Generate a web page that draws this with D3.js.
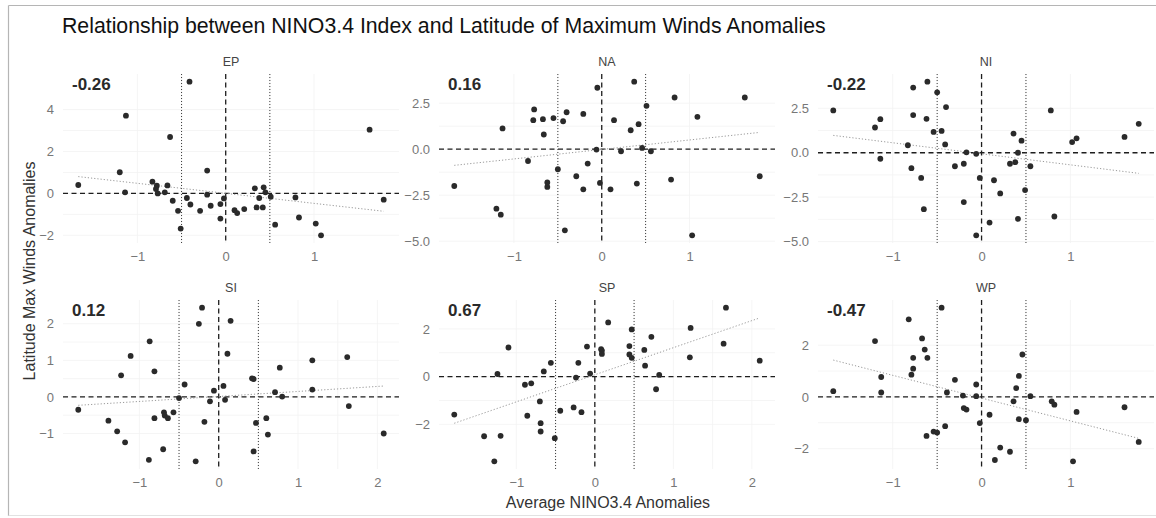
<!DOCTYPE html>
<html>
<head>
<meta charset="utf-8">
<script src="https://cdn.jsdelivr.net/npm/d3@7"></script>
<style>
  body { margin: 0; background: #fff; }
  svg { display: block; }
  text { font-family: "Liberation Sans", Arial, sans-serif; }
</style>
</head>
<body>
<svg id="chart" width="1156" height="518"></svg>
<script>
// Basin facets, in display order
const basins = ["EP", "NA", "NI", "SI", "SP", "WP"];
const corrLabels = ["-0.26", "0.16", "-0.22", "0.12", "0.67", "-0.47"];

// Average NINO3.4 anomaly (x) and latitude-of-max-winds anomaly (y) per basin
const epNino = [-1.67,-1.13,-1.20,-1.14,-0.41,-0.63,-0.21,-0.83,-0.78,-0.79,-0.77,-0.66,-0.69,-0.60,-0.54,-0.51,-0.44,-0.40,-0.29,-0.21,-0.17,-0.06,-0.02,-0.06,0.10,0.13,0.21,0.33,0.38,0.35,0.42,0.43,0.45,0.51,0.56,0.79,0.83,1.02,1.08,1.63,1.79];
const epLat  = [0.40,3.71,1.01,0.05,5.33,2.69,1.09,0.56,0.37,0.21,0.00,0.38,0.05,-0.35,-0.83,-1.68,-0.22,-0.53,-0.83,-0.06,-0.59,-0.51,-0.24,-1.20,-0.80,-0.94,-0.75,0.24,-0.22,-0.67,-0.67,0.29,0.05,-0.16,-1.49,-0.19,-1.15,-1.44,-2.00,3.04,-0.30];

const naNino = [-1.68,-1.20,-1.15,-1.13,-0.84,-0.77,-0.78,-0.67,-0.66,-0.62,-0.62,-0.55,-0.50,-0.44,-0.40,-0.42,-0.29,-0.21,-0.21,-0.16,-0.05,-0.06,-0.02,0.10,0.14,0.22,0.33,0.37,0.42,0.40,0.46,0.51,0.56,0.79,0.83,1.03,1.09,1.63,1.80];
const naLat  = [-2.00,-3.23,-3.56,1.13,-0.64,2.16,1.58,1.63,0.80,-1.81,-2.05,1.69,-1.09,1.52,2.01,-4.41,-1.47,1.92,-2.18,-0.78,3.34,-0.02,-1.83,-2.18,1.58,-0.11,1.03,3.67,1.36,-1.87,0.07,2.36,-0.11,-1.65,2.81,-4.68,1.76,2.81,-1.47];

const niNino = [-1.67,-1.20,-1.14,-1.14,-0.83,-0.77,-0.77,-0.79,-0.68,-0.65,-0.62,-0.61,-0.54,-0.50,-0.45,-0.41,-0.40,-0.30,-0.20,-0.20,-0.17,-0.06,-0.06,-0.02,0.09,0.14,0.21,0.32,0.36,0.38,0.41,0.41,0.45,0.49,0.55,0.78,0.82,1.02,1.07,1.61,1.77];
const niLat  = [2.38,1.42,1.89,-0.34,0.42,3.67,2.12,-0.87,-1.42,-3.18,1.91,4.00,1.17,3.40,1.23,0.47,2.57,-0.76,-0.62,-2.78,0.02,-0.06,-4.65,-1.42,-3.93,-1.55,-2.29,-0.62,1.08,-0.53,0.00,-3.72,0.68,-2.10,-0.76,2.38,-3.59,0.60,0.81,0.89,1.63];

const siNino = [-1.77,-1.39,-1.28,-1.23,-1.18,-1.11,-0.88,-0.87,-0.81,-0.81,-0.70,-0.69,-0.68,-0.64,-0.57,-0.50,-0.43,-0.29,-0.25,-0.21,-0.18,-0.11,-0.06,0.06,0.08,0.11,0.15,0.42,0.44,0.44,0.47,0.60,0.62,0.71,0.77,0.80,1.18,1.18,1.62,1.64,2.08];
const siLat  = [-0.35,-0.65,-0.94,0.59,-1.24,1.12,-1.72,1.52,0.70,-0.58,-1.43,-0.42,-0.51,-0.58,-0.42,-0.03,0.34,-1.76,2.00,2.44,-0.68,-0.12,0.17,0.30,-0.08,1.18,2.08,0.51,0.49,-1.49,-0.71,-0.58,-1.03,0.13,0.80,0.01,1.00,0.20,1.09,-0.25,-1.00];

const spNino = [-1.79,-1.41,-1.28,-1.24,-1.20,-1.10,-0.89,-0.86,-0.81,-0.70,-0.69,-0.69,-0.65,-0.56,-0.51,-0.44,-0.27,-0.24,-0.21,-0.17,-0.10,-0.06,0.08,0.09,0.09,0.17,0.44,0.44,0.47,0.47,0.63,0.64,0.72,0.78,0.82,1.21,1.22,1.64,1.67,2.10];
const spLat  = [-1.59,-2.50,-3.55,0.11,-2.48,1.22,-0.34,-1.64,-0.28,-1.04,-1.95,-2.30,0.22,0.58,-2.58,-1.43,-1.29,-0.04,0.58,-1.49,1.26,0.13,1.15,1.09,0.95,2.27,1.28,0.93,0.79,1.98,1.12,0.46,1.67,-0.53,0.07,0.81,2.04,1.38,2.89,0.67];

const wpNino = [-1.67,-1.20,-1.13,-1.13,-0.82,-0.79,-0.77,-0.77,-0.67,-0.64,-0.61,-0.62,-0.54,-0.50,-0.45,-0.41,-0.39,-0.30,-0.21,-0.20,-0.17,-0.06,-0.06,-0.02,0.09,0.15,0.21,0.32,0.36,0.39,0.42,0.42,0.46,0.50,0.55,0.79,0.82,1.03,1.07,1.61,1.77];
const wpLat  = [0.22,2.16,0.77,0.17,3.00,0.86,1.09,1.51,2.26,1.83,1.51,-1.51,-1.34,-1.38,3.45,-1.13,0.17,0.66,0.05,-0.43,-0.49,0.48,0.03,-1.01,-0.69,-2.44,-1.96,-2.12,-0.17,0.34,0.81,-0.86,1.64,-0.90,0.03,-0.17,-0.30,-2.49,-0.58,-0.40,-1.74];

// Tick labels per facet (free scales)
const epXTicks = [-1, 0, 1], epYTicks = [-2, 0, 2, 4];
const naXTicks = [-1, 0, 1], naYTicks = [-5, -2.5, 0, 2.5];
const niXTicks = [-1, 0, 1], niYTicks = [-5, -2.5, 0, 2.5];
const siXTicks = [-1, 0, 1, 2], siYTicks = [-1, 0, 1, 2];
const spXTicks = [-1, 0, 1, 2], spYTicks = [-2, 0, 2];
const wpXTicks = [-1, 0, 1], wpYTicks = [-2, 0, 2];

const titleText = "Relationship between NINO3.4 Index and Latitude of Maximum Winds Anomalies";
const xTitle = "Average NINO3.4 Anomalies";
const yTitle = "Latitude Max Winds Anomalies";

// Table built from the arrays above
const facets = [
  { name: basins[0], x: epNino, y: epLat, xt: epXTicks, yt: epYTicks, fmt: d3.format("d"),   r: corrLabels[0] },
  { name: basins[1], x: naNino, y: naLat, xt: naXTicks, yt: naYTicks, fmt: d3.format(".1f"), r: corrLabels[1] },
  { name: basins[2], x: niNino, y: niLat, xt: niXTicks, yt: niYTicks, fmt: d3.format(".1f"), r: corrLabels[2] },
  { name: basins[3], x: siNino, y: siLat, xt: siXTicks, yt: siYTicks, fmt: d3.format("d"),   r: corrLabels[3] },
  { name: basins[4], x: spNino, y: spLat, xt: spXTicks, yt: spYTicks, fmt: d3.format("d"),   r: corrLabels[4] },
  { name: basins[5], x: wpNino, y: wpLat, xt: wpXTicks, yt: wpYTicks, fmt: d3.format("d"),   r: corrLabels[5] }
];

// Layout
const colLeft = [63, 439, 818];
const rowTop = [74, 300];
const pw = 336, ph = 169;

const svg = d3.select("#chart");

// frame around the figure
svg.append("line").attr("x1", 8.5).attr("x2", 1156).attr("y1", 5.5).attr("y2", 5.5)
  .attr("stroke", "#b5b5b5").attr("stroke-width", 1);
svg.append("line").attr("x1", 8.5).attr("x2", 8.5).attr("y1", 5.5).attr("y2", 516)
  .attr("stroke", "#b5b5b5").attr("stroke-width", 1.2);
svg.append("line").attr("x1", 8.5).attr("x2", 1156).attr("y1", 515.5).attr("y2", 515.5)
  .attr("stroke", "#e2e2e2").attr("stroke-width", 1);

// title, sized to span its line
const title = svg.append("text").attr("x", 62).attr("y", 33)
  .attr("fill", "#111").style("font-size", "18px").text(titleText);
const tw = title.node().getComputedTextLength();
title.style("font-size", (18 * 764 / tw).toFixed(2) + "px");

// expand a domain by 5% on each side, as in a faceted scatter with free scales
function expanded(vals) {
  const [lo, hi] = d3.extent(vals.concat([-0.5, 0, 0.5]));
  const pad = (hi - lo) * 0.05;
  return [lo - pad, hi + pad];
}

function linearFit(xs, ys) {
  const mx = d3.mean(xs), my = d3.mean(ys);
  let sxy = 0, sxx = 0;
  xs.forEach((x, i) => { sxy += (x - mx) * (ys[i] - my); sxx += (x - mx) * (x - mx); });
  const b = sxy / sxx;
  return { a: my - b * mx, b };
}

facets.forEach((f, i) => {
  const left = colLeft[i % 3], top = rowTop[Math.floor(i / 3)];
  const x = d3.scaleLinear().domain(expanded(f.x)).range([left, left + pw]);
  const y = d3.scaleLinear().domain(expanded(f.y)).range([top + ph, top]);
  const g = svg.append("g");

  // faint grid
  const xMinor = f.xt.slice(0, -1).map((t, k) => (t + f.xt[k + 1]) / 2);
  const yMinor = f.yt.slice(0, -1).map((t, k) => (t + f.yt[k + 1]) / 2);
  g.selectAll(".gx").data(f.xt.concat(xMinor)).join("line")
    .attr("x1", d => x(d)).attr("x2", d => x(d)).attr("y1", top).attr("y2", top + ph)
    .attr("stroke", "#f3f3f3").attr("stroke-width", 0.8);
  g.selectAll(".gy").data(f.yt.concat(yMinor)).join("line")
    .attr("y1", d => y(d)).attr("y2", d => y(d)).attr("x1", left).attr("x2", left + pw)
    .attr("stroke", "#f3f3f3").attr("stroke-width", 0.8);

  // reference lines
  g.append("line").attr("x1", left).attr("x2", left + pw).attr("y1", y(0)).attr("y2", y(0))
    .attr("stroke", "#1e1e1e").attr("stroke-width", 1.3).attr("stroke-dasharray", "5,3.5");
  g.append("line").attr("x1", x(0)).attr("x2", x(0)).attr("y1", top).attr("y2", top + ph)
    .attr("stroke", "#1e1e1e").attr("stroke-width", 1.3).attr("stroke-dasharray", "5,3.5");
  [-0.5, 0.5].forEach(v => {
    g.append("line").attr("x1", x(v)).attr("x2", x(v)).attr("y1", top).attr("y2", top + ph)
      .attr("stroke", "#3a3a3a").attr("stroke-width", 1).attr("stroke-dasharray", "1,2");
  });

  // least-squares line
  const fit = linearFit(f.x, f.y);
  const [x0, x1] = d3.extent(f.x);
  g.append("line")
    .attr("x1", x(x0)).attr("y1", y(fit.a + fit.b * x0))
    .attr("x2", x(x1)).attr("y2", y(fit.a + fit.b * x1))
    .attr("stroke", "#9a9a9a").attr("stroke-width", 1).attr("stroke-dasharray", "1.2,2");

  // points
  g.selectAll("circle").data(f.x.map((v, k) => [v, f.y[k]])).join("circle")
    .attr("cx", d => x(d[0])).attr("cy", d => y(d[1])).attr("r", 2.9)
    .attr("fill", "#2a2a2a");

  // axes
  const ax = g.append("g").attr("transform", `translate(0,${top + ph})`)
    .call(d3.axisBottom(x).tickValues(f.xt).tickSize(0).tickPadding(9).tickFormat(d3.format("d")));
  const ay = g.append("g").attr("transform", `translate(${left},0)`)
    .call(d3.axisLeft(y).tickValues(f.yt).tickSize(0).tickPadding(9).tickFormat(f.fmt));
  [ax, ay].forEach(a => {
    a.select(".domain").remove();
    a.selectAll("text").attr("fill", "#777").style("font-size", "13px")
      .style("font-family", '"Liberation Sans", Arial, sans-serif');
  });

  // facet strip label
  g.append("text").attr("x", left + pw / 2).attr("y", top - 8)
    .attr("text-anchor", "middle").attr("fill", "#444").style("font-size", "12.5px").text(f.name);

  // correlation label
  g.append("text").attr("x", left + 9).attr("y", top + 10).attr("dy", "0.35em")
    .attr("fill", "#2a2a2a").style("font-size", "17px").style("font-weight", "bold").text(f.r);
});

// axis titles
svg.append("text").attr("x", 608).attr("y", 508).attr("text-anchor", "middle")
  .attr("fill", "#333").style("font-size", "16px").text(xTitle);
svg.append("text").attr("transform", "translate(35,271) rotate(-90)").attr("text-anchor", "middle")
  .attr("fill", "#333").style("font-size", "16px").text(yTitle);
</script>
</body>
</html>
